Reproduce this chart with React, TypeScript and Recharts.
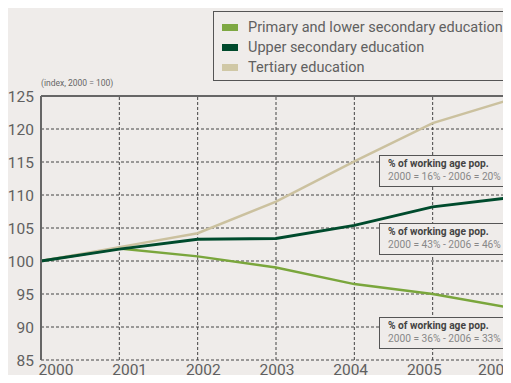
import React from "react";
import {
  LineChart,
  Line,
  XAxis,
  YAxis,
  CartesianGrid,
  ReferenceLine,
} from "recharts";

const years = [2000, 2001, 2002, 2003, 2004, 2005, 2006];
const primary = [100, 101.9, 100.7, 99.0, 96.5, 95.0, 92.9];
const upperSecondary = [100, 101.8, 103.3, 103.4, 105.4, 108.2, 109.6];
const tertiary = [100, 102.1, 104.2, 109.0, 115.1, 120.9, 124.5];
const yTicks = [85, 90, 95, 100, 105, 110, 115, 120, 125];

const seriesNames = [
  "Primary and lower secondary education",
  "Upper secondary education",
  "Tertiary education",
];
const shares = [
  "2000 = 36% - 2006 = 33%",
  "2000 = 43% - 2006 = 46%",
  "2000 = 16% - 2006 = 20%",
];

const data = years.map((year, i) => ({
  year,
  primary: primary[i],
  upper: upperSecondary[i],
  tertiary: tertiary[i],
}));

const BG = "#efecea";
const FONT = "Roboto, 'DejaVu Sans', sans-serif";
const AXIS = "#666";
const GRID = "#444";
const TEXT = "#606060";
const colors = { primary: "#7aa63c", upper: "#004b2d", tertiary: "#cbc19f" };
const swatches = ["#7ea843", "#004a2c", "#d0c8a6"];

function LegendBox() {
  return (
    <div
      style={{
        position: "absolute",
        left: 213,
        top: 11,
        width: 320,
        height: 70,
        border: "1.5px solid #555",
        fontFamily: FONT,
        fontSize: 14.5,
        color: TEXT,
        paddingTop: 5,
        boxSizing: "border-box",
      }}
    >
      {seriesNames.map((name, i) => (
        <div key={name} style={{ display: "flex", alignItems: "center", height: 20, paddingLeft: 8 }}>
          <span style={{ display: "inline-block", width: 16, height: 7, background: swatches[i], marginRight: 10 }} />
          <span>{name}</span>
        </div>
      ))}
    </div>
  );
}

function ShareBox({ top, text }: { top: number; text: string }) {
  return (
    <div
      style={{
        position: "absolute",
        left: 379,
        top,
        width: 150,
        height: 32,
        background: BG,
        border: "1.5px solid #555",
        boxSizing: "border-box",
        fontFamily: FONT,
        fontSize: 10.2,
        lineHeight: "12.5px",
        padding: "2px 0 0 8px",
      }}
    >
      <div style={{ fontWeight: 700, color: "#444" }}>% of working age pop.</div>
      <div style={{ color: "#888" }}>{text}</div>
    </div>
  );
}

export default function App() {
  return (
    <div
      style={{
        position: "relative",
        margin: -8,
        width: 511,
        height: 383,
        overflow: "hidden",
        background: BG,
      }}
    >
      <LineChart
        width={511}
        height={383}
        data={data}
        margin={{ top: 96, right: 0, left: 0, bottom: 0 }}
      >
        <CartesianGrid stroke={GRID} strokeDasharray="3 2" strokeWidth={1} vertical={false} />
        {years.slice(1).map((y) => (
          <ReferenceLine key={y} x={y} stroke={GRID} strokeDasharray="3 2" strokeWidth={1} />
        ))}
        <XAxis
          dataKey="year"
          type="number"
          domain={[2000, 2006]}
          ticks={years}
          height={0}
          tick={false}
          tickLine={false}
          axisLine={{ stroke: AXIS, strokeWidth: 2 }}
        />
        <XAxis
          xAxisId="lbl"
          dataKey="year"
          type="number"
          domain={[2000, 2006]}
          ticks={years}
          padding={{ left: 15, right: 13 }}
          height={23}
          axisLine={false}
          tickLine={false}
          tickSize={0}
          tickMargin={4}
          tick={{ fill: TEXT, fontSize: 15.5, fontFamily: FONT }}
        />
        <YAxis
          domain={[85, 125]}
          ticks={yTicks}
          width={41}
          tickLine={false}
          tickSize={0}
          tickMargin={7}
          interval={0}
          axisLine={{ stroke: AXIS, strokeWidth: 2 }}
          tick={{ fill: TEXT, fontSize: 15.5, fontFamily: FONT }}
          label={{
            content: (props: any) => {
              const vb = props.viewBox;
              return (
                <text
                  x={vb.x + vb.width}
                  y={vb.y - 10}
                  fill="#666"
                  fontSize={8.5}
                  fontFamily={FONT}
                >
                  (index, 2000 = 100)
                </text>
              );
            },
          }}
        />
        <ReferenceLine y={125} stroke={AXIS} strokeWidth={2} />
        <Line
          dataKey="primary"
          name={seriesNames[0]}
          stroke={colors.primary}
          strokeWidth={2.5}
          dot={false}
          isAnimationActive={false}
        />
        <Line
          dataKey="tertiary"
          name={seriesNames[2]}
          stroke={colors.tertiary}
          strokeWidth={2.5}
          dot={false}
          isAnimationActive={false}
        />
        <Line
          dataKey="upper"
          name={seriesNames[1]}
          stroke={colors.upper}
          strokeWidth={3}
          dot={false}
          isAnimationActive={false}
        />
      </LineChart>
      <LegendBox />
      <ShareBox top={155} text={shares[2]} />
      <ShareBox top={223} text={shares[1]} />
      <ShareBox top={317} text={shares[0]} />
    </div>
  );
}
